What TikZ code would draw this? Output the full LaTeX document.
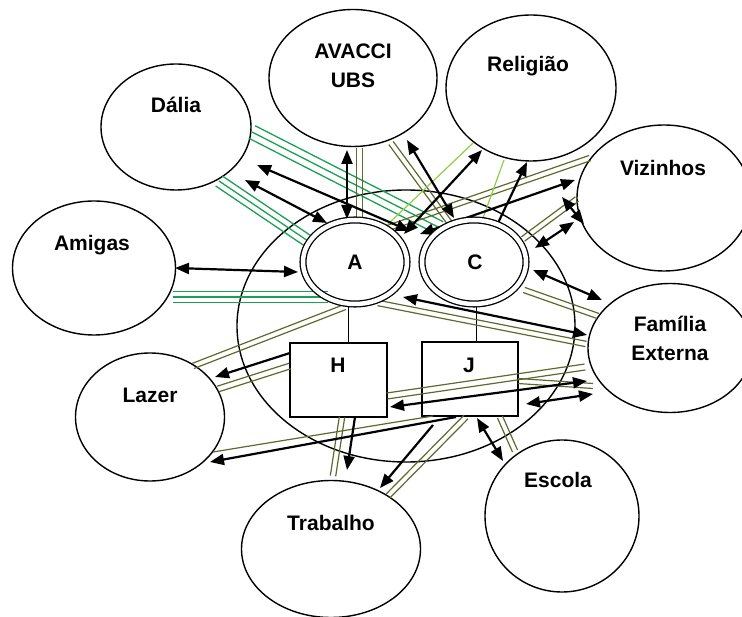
\documentclass[tikz,border=0pt]{standalone}
\usepackage{fontspec}
\setmainfont{Liberation Sans}
\usetikzlibrary{shapes.geometric,arrows.meta,calc}
\definecolor{gstrong}{RGB}{25,160,85}
\definecolor{olivec}{RGB}{95,105,45}
\definecolor{lgreen}{RGB}{145,205,70}
\newcommand\band[6]{%
  \coordinate (#3) at (#4);
  \coordinate (#5) at (#6);
  \foreach \off in {#2}{%
    \draw[#1] ($(#3)!\off pt!90:(#5)$) -- ($(#5)!\off pt!-90:(#3)$);}}
\newcommand\link[5]{%
  \coordinate (#2) at (#3);
  \coordinate (#4) at (#5);
  \draw[#1] (#2) -- (#4);}
\begin{document}
\begin{tikzpicture}[x=1pt,y=-1pt,
  ell/.style={draw, ellipse, line width=1.4pt, inner sep=0pt},
  dell/.style={draw, ellipse, line width=1.3pt, double, double distance=4.5pt, inner sep=0pt, minimum width=104pt, minimum height=84pt},
  box/.style={draw, rectangle, line width=1.4pt, inner sep=0pt},
  lbl/.style={font=\bfseries\fontsize{21}{29}\selectfont, align=center, inner sep=0pt},
  gs/.style={draw=gstrong, line width=1.3pt},
  ol/.style={draw=olivec, line width=1.2pt},
  lg/.style={draw=lgreen, line width=1.2pt},
  thinln/.style={draw=black, line width=1pt},
  arr/.style={line width=2.2pt, -{Triangle[length=14pt,width=11pt]}},
  darr/.style={line width=2.2pt, {Triangle[length=14pt,width=11pt]}-{Triangle[length=14pt,width=11pt]}}]
\useasboundingbox (0,0) rectangle (742,617);
\clip (0,0) rectangle (742,617);

% outer ellipses
\node[ell, minimum width=338pt, minimum height=272pt] (home) at (406,326) {};
\node[ell, minimum width=150pt, minimum height=126pt] (dalia) at (176,127) {};
\node[ell, minimum width=168pt, minimum height=137pt] (avacci) at (353,78) {};
\node[ell, minimum width=170pt, minimum height=146pt] (religiao) at (531,88) {};
\node[ell, minimum width=174pt, minimum height=146pt] (vizinhos) at (664,198) {};
\node[ell, minimum width=163pt, minimum height=134pt] (amigas) at (94,268) {};
\node[ell, minimum width=164pt, minimum height=129pt] (familia) at (670,348) {};
\node[ell, minimum width=149pt, minimum height=128pt] (lazer) at (150,417) {};
\node[ell, minimum width=179pt, minimum height=137pt] (trabalho) at (331,549) {};
\node[ell, minimum width=154pt, minimum height=152pt] (escola) at (562,516) {};

% household members
\node[box, minimum width=97pt, minimum height=74pt] (H) at (338.5,380) {};
\node[box, minimum width=96pt, minimum height=74pt] (J) at (470,379) {};

% family links
\link{thinln}{ah1}{348,307}{ah2}{348,343}
\link{thinln}{cj1}{476,307}{cj2}{476,342}

% strong green bonds
\band{gs}{-6,0,6}{dA1}{219,181}{dA2}{308,241}
\band{gs}{-7,0,7}{dC1}{252,132}{dC2}{440,228}
\band{gs}{-5.7,0,5.7}{mA1}{173,297}{mA2}{328,297}

% olive bonds
\band{ol}{-2.7,2.7}{uA1}{359.5,148}{uA2}{359.5,218}
\band{ol}{-2.7,2.7}{uC1}{391,143}{uC2}{452,226}
\band{ol}{-2.7,2.7}{vA1}{590,158}{vA2}{385,229}
\band{ol}{-2.7,2.7}{vC1}{577,199}{vC2}{523,239}
\band{ol}{-2.7,2.7}{cF1}{524,290}{cF2}{598,316}
\band{ol}{-2.7,2.7}{aF1}{378,303}{aF2}{586,344}
\band{ol}{-2.7,2.7}{aL1}{345,307}{aL2}{193,366}
\band{ol}{-2.9,2.9}{hL1}{290,366}{hL2}{218,389}
\band{ol}{0}{jL1}{433,416}{jL2}{213,452}
\band{ol}{-2.7,2.7}{hT1}{342,417}{hT2}{333,476}
\band{ol}{-2.7,2.7}{jT1}{466,417}{jT2}{388,496}
\band{ol}{-2.7,2.7}{jE1}{500,417}{jE2}{515,451}
\band{ol}{-3,3}{hF1}{387,396}{hF2}{585,367}
\band{ol}{-2.5,2.5}{jF1}{518,381}{jF2}{593,386}

% light green bonds
\link{lg}{rA1}{473,143}{rA2}{385,227}
\link{lg}{rC1}{504,160}{rC2}{483,218}

% energy flow arrows
\link{darr}{x1a}{245,180}{x1b}{327,223}
\link{darr}{x2a}{257,165}{x2b}{410,231}
\link{darr}{x3a}{347,150}{x3b}{347,219}
\link{darr}{x4a}{407,140}{x4b}{454,218}
\link{darr}{x5a}{482,150}{x5b}{404,234}
\link{arr}{x6a}{498,223}{x6b}{527,162}
\link{darr}{x7a}{575,180}{x7b}{420,234}
\link{darr}{x8a}{562,197}{x8b}{584,224}
\link{darr}{x9a}{535,248}{x9b}{574,222}
\link{darr}{x10a}{533,270}{x10b}{602,300}
\link{darr}{x11a}{403,297}{x11b}{587,335}
\link{darr}{x12a}{175,268}{x12b}{298,272}
\link{arr}{x13a}{290,353}{x13b}{215,377}
\link{arr}{x14a}{456,417}{x14b}{210,462}
\link{arr}{x15a}{355,417}{x15b}{347,470}
\link{arr}{x16a}{433,425}{x16b}{380,488}
\link{darr}{x17a}{477,418}{x17b}{503,461}
\link{darr}{x18a}{390,407}{x18b}{587,381}
\link{darr}{x19a}{526,404}{x19b}{593,394}

% couple
\node[dell] (A) at (355,262) {};
\node[dell] (C) at (474,262) {};

% labels
\node[lbl] (tDalia) at (176,105) {Dália};
\node[lbl] (tAvacci) at (353,66) {AVACCI\\UBS};
\node[lbl] (tReligiao) at (528,66) {Religião};
\node[lbl] (tVizinhos) at (663,168) {Vizinhos};
\node[lbl] (tAmigas) at (92,245) {Amigas};
\node[lbl] (tFamilia) at (670,338) {Família\\Externa};
\node[lbl] (tLazer) at (150,395) {Lazer};
\node[lbl] (tTrabalho) at (331,523) {Trabalho};
\node[lbl] (tEscola) at (558,480) {Escola};
\node[lbl] (tA) at (355,262) {A};
\node[lbl] (tC) at (475,262) {C};
\node[lbl] (tH) at (338,365) {H};
\node[lbl] (tJ) at (469,365) {J};
\end{tikzpicture}
\end{document}
